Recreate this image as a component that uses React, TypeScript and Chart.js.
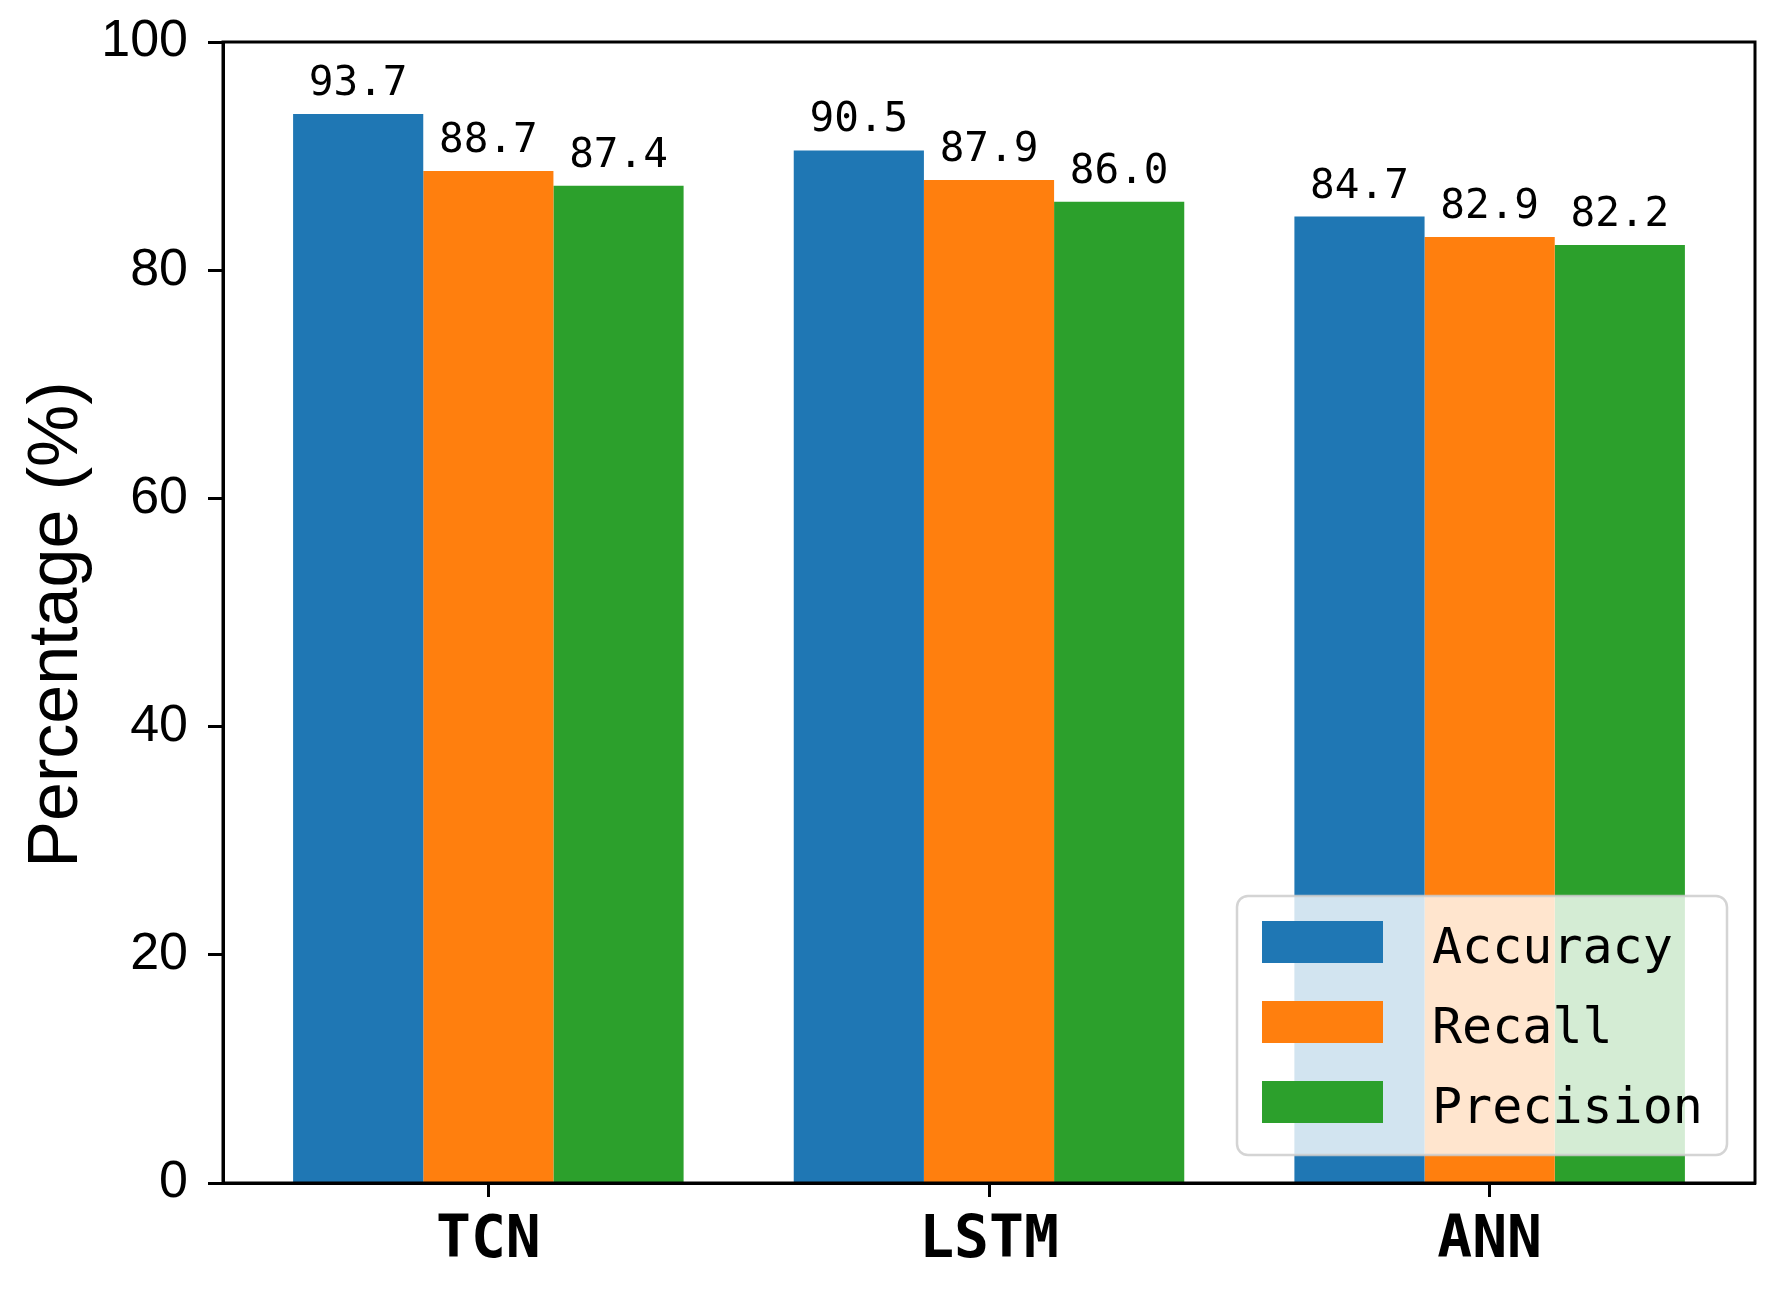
import React, { useEffect, useRef } from "react";
import { Chart, registerables } from "chart.js";

Chart.register(...registerables);

const categories = ["TCN", "LSTM", "ANN"];
const seriesNames = ["Accuracy", "Recall", "Precision"];
const accuracy = [93.7, 90.5, 84.7];
const recall = [88.7, 87.9, 82.9];
const precision = [87.4, 86.0, 82.2];
const seriesColors = ["#1f77b4", "#ff7f0e", "#2ca02c"];
const yTickValues = [0, 20, 40, 60, 80, 100];
const yAxisTitle = "Percentage (%)";

const MONO = "'DejaVu Sans Mono', 'Liberation Mono', monospace";
const SANS = "'Liberation Sans', Arial, sans-serif";

const framePlugin = {
  id: "frame",
  afterDatasetsDraw(chart: any) {
    const { ctx, chartArea: a } = chart;
    ctx.save();
    ctx.strokeStyle = "#000";
    ctx.lineWidth = 3;
    ctx.strokeRect(a.left, a.top, a.right - a.left, a.bottom - a.top);
    ctx.restore();
  },
};

const yTitlePlugin = {
  id: "yTitle",
  afterDraw(chart: any) {
    const { ctx, chartArea: a } = chart;
    ctx.save();
    ctx.translate(a.left - 146, (a.top + a.bottom) / 2 + 12);
    ctx.rotate(-Math.PI / 2);
    ctx.font = `70px ${SANS}`;
    ctx.fillStyle = "#000";
    ctx.textAlign = "center";
    ctx.textBaseline = "alphabetic";
    ctx.fillText(yAxisTitle, 0, 0);
    ctx.restore();
  },
};

const valueLabelPlugin = {
  id: "valueLabels",
  afterDatasetsDraw(chart: any) {
    const { ctx } = chart;
    ctx.save();
    ctx.font = `41px ${MONO}`;
    ctx.fillStyle = "#000";
    ctx.textAlign = "center";
    ctx.textBaseline = "alphabetic";
    chart.data.datasets.forEach((ds: any, di: number) => {
      const meta = chart.getDatasetMeta(di);
      meta.data.forEach((el: any, i: number) => {
        const v = ds.data[i].y;
        ctx.fillText(v.toFixed(1), el.x, el.y - 19);
      });
    });
    ctx.restore();
  },
};

const boxLegendPlugin = {
  id: "boxLegend",
  afterDraw(chart: any) {
    const { ctx, chartArea: a } = chart;
    const boxW = 490;
    const boxH = 259;
    const right = a.right - 28;
    const bottom = a.bottom - 28;
    const left = right - boxW;
    const top = bottom - boxH;
    ctx.save();
    ctx.beginPath();
    if ((ctx as any).roundRect) (ctx as any).roundRect(left, top, boxW, boxH, 11);
    else ctx.rect(left, top, boxW, boxH);
    ctx.fillStyle = "rgba(255,255,255,0.8)";
    ctx.fill();
    ctx.lineWidth = 2.5;
    ctx.strokeStyle = "rgba(204,204,204,0.85)";
    ctx.stroke();
    ctx.font = `50px ${MONO}`;
    ctx.textAlign = "left";
    ctx.textBaseline = "alphabetic";
    chart.data.datasets.forEach((ds: any, i: number) => {
      const hy = top + 25 + i * 80;
      ctx.fillStyle = ds.backgroundColor;
      ctx.fillRect(left + 25, hy, 121, 42);
      ctx.fillStyle = "#000";
      ctx.fillText(ds.label, left + 195, hy + 42);
    });
    ctx.restore();
  },
};

export default function App() {
  const ref = useRef<HTMLCanvasElement | null>(null);

  useEffect(() => {
    if (!ref.current) return;
    const seriesValues = [accuracy, recall, precision];
    const chart = new Chart(ref.current, {
      type: "bar",
      data: {
        datasets: seriesNames.map((name, si) => ({
          label: name,
          data: categories.map((_, ci) => ({ x: ci, y: seriesValues[si][ci] })),
          backgroundColor: seriesColors[si],
          borderWidth: 0,
          categoryPercentage: 0.78,
          barPercentage: 1.0,
        })),
      },
      options: {
        animation: false,
        responsive: true,
        maintainAspectRatio: false,
        layout: { padding: { left: 0, right: 22, top: 42, bottom: 0 } },
        plugins: {
          legend: { display: false },
          tooltip: { enabled: false },
        },
        scales: {
          x: {
            type: "linear",
            offset: false,
            min: -0.53,
            max: 2.53,
            afterBuildTicks: (scale: any) => {
              scale.ticks = categories.map((_, i) => ({ value: i }));
            },
            afterFit: (scale: any) => {
              scale.height = 107;
              scale.paddingLeft = 0;
              scale.paddingRight = 0;
            },
            ticks: {
              callback: (v: any) => categories[Math.round(Number(v))] ?? "",
              font: { family: MONO, size: 58, weight: "bold" },
              color: "#000",
              padding: 10,
              maxRotation: 0,
              autoSkip: false,
            },
            grid: {
              display: true,
              offset: false,
              drawOnChartArea: false,
              drawTicks: true,
              tickLength: 14,
              tickWidth: 3,
              tickColor: "#000",
            },
            border: { display: true, color: "#000", width: 3 },
          },
          y: {
            min: 0,
            max: 100,
            afterBuildTicks: (scale: any) => {
              scale.ticks = yTickValues.map((v) => ({ value: v }));
            },
            afterFit: (scale: any) => {
              scale.width = 223;
              scale.paddingTop = 0;
              scale.paddingBottom = 0;
            },
            ticks: {
              font: { family: SANS, size: 52 },
              color: "#000",
              padding: 20,
            },
            grid: {
              display: true,
              drawOnChartArea: false,
              drawTicks: true,
              tickLength: 15,
              tickWidth: 3,
              tickColor: "#000",
            },
            border: { display: true, color: "#000", width: 3 },
          },
        },
      },
      plugins: [framePlugin, valueLabelPlugin, boxLegendPlugin, yTitlePlugin],
    } as any);
    return () => chart.destroy();
  }, []);

  return (
    <div
      style={{
        position: "fixed",
        left: 0,
        top: 0,
        width: 1777,
        height: 1290,
        background: "#fff",
      }}
    >
      <canvas ref={ref} />
    </div>
  );
}
